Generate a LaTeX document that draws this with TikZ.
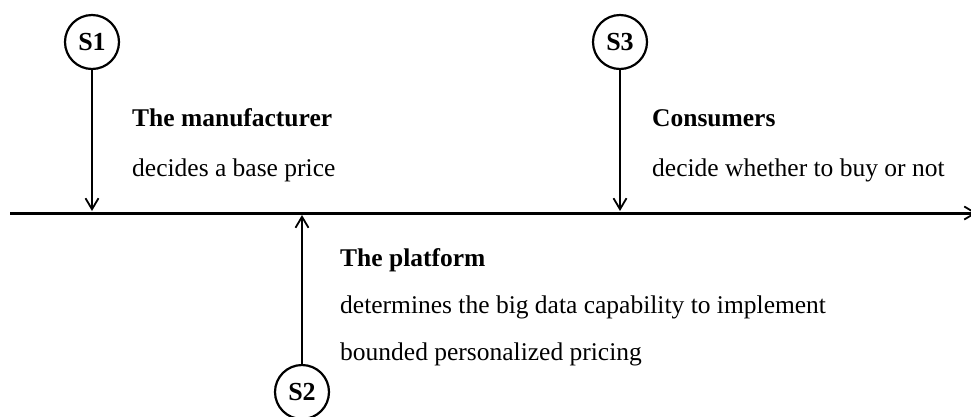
\documentclass[tikz,border=0pt]{standalone}
\usepackage{fontspec}
\setmainfont{Liberation Serif}
\usetikzlibrary{arrows.meta}
\begin{document}
\begin{tikzpicture}[x=1pt,y=-1pt,
  stage/.style={circle,draw,line width=2.2pt,minimum size=54pt,inner sep=0pt,font=\fontsize{26}{26}\selectfont\bfseries},
  link/.style={line width=2pt,-{Straight Barb[length=11pt,width=13pt,line width=1.8pt]}},
  head/.style={anchor=base west,inner sep=0pt,font=\fontsize{25.5}{25.5}\selectfont\bfseries},
  body/.style={anchor=base west,inner sep=0pt,font=\fontsize{25.5}{25.5}\selectfont}]
\useasboundingbox (0,0) rectangle (971,416);
% time axis, its tip running off the right edge
\coordinate (tstart) at (10,213);
\coordinate (tend) at (977,213);
\draw[line width=3pt,-{Straight Barb[length=11pt,width=13pt,line width=1.8pt]}] (tstart) -- (tend);
% stages
\node[stage] (s1) at (92,42) {S1};
\node[stage] (s3) at (620,42) {S3};
\node[stage] (s2) at (302,392) {S2};
\coordinate (t1) at (92,211);
\coordinate (t3) at (620,211);
\coordinate (t2) at (302,215);
\draw[link] (s1) -- (t1);
\draw[link] (s3) -- (t3);
\draw[link] (s2) -- (t2);
% descriptions
\node[head] (h1) at (132,126) {The manufacturer};
\node[body] (b1) at (132,176) {decides a base price};
\node[head] (h3) at (652,126) {Consumers};
\node[body] (b3) at (652,176) {decide whether to buy or not};
\node[head] (h2) at (340,266) {The platform};
\node[body] (b2a) at (340,313) {determines the big data capability to implement};
\node[body] (b2b) at (340,360) {bounded personalized pricing};
\end{tikzpicture}
\end{document}
